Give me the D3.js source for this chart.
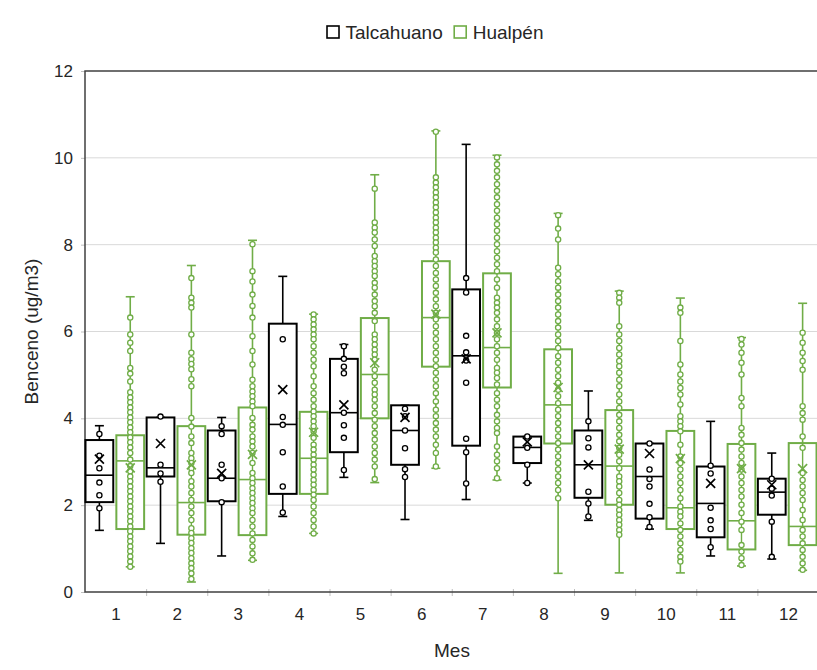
<!DOCTYPE html>
<meta charset="utf-8">
<html>
<head>
<style>
  body { margin: 0; background: #fff; }
  svg text { font-family: "Liberation Sans", Arial, sans-serif; fill: #262626; }
  .grid line { stroke: #d9d9d9; stroke-width: 1; }
</style>
</head>
<body>
<svg width="817" height="670"></svg>
<script src="https://cdn.jsdelivr.net/npm/d3@7"></script>
<script>
var months = ["1","2","3","4","5","6","7","8","9","10","11","12"];
var series = ["Talcahuano", "Hualpén"];
var yTicks = [0, 2, 4, 6, 8, 10, 12];

// Talcahuano (black)
var talQ1   = [2.07, 2.66, 2.09, 2.26, 3.22, 2.93, 3.37, 2.97, 2.17, 1.69, 1.26, 1.78];
var talMed  = [2.69, 2.86, 2.62, 3.86, 4.13, 3.72, 5.44, 3.33, 2.93, 2.66, 2.04, 2.30];
var talQ3   = [3.50, 4.02, 3.72, 6.18, 5.37, 4.30, 6.97, 3.58, 3.72, 3.42, 2.89, 2.61];
var talLo   = [1.42, 1.12, 0.83, 1.74, 2.64, 1.67, 2.13, 2.51, 1.65, 1.45, 0.83, 0.76];
var talHi   = [3.83, 4.02, 4.02, 7.27, 5.70, 4.30, 10.31, 3.58, 4.63, 3.42, 3.93, 3.20];
var talMean = [3.06, 3.42, 2.73, 4.66, 4.31, 4.02, 5.37, 3.46, 2.93, 3.19, 2.50, 2.47];
var talPts = [
  [3.64, 3.14, 2.85, 2.52, 2.23, 1.93],
  [4.04, 2.93, 2.73, 2.54],
  [3.82, 3.64, 2.93, 2.62, 2.07],
  [5.82, 4.03, 3.85, 3.22, 2.43, 1.83],
  [5.66, 5.37, 5.19, 5.04, 4.13, 3.84, 3.55, 2.81],
  [4.22, 4.05, 3.72, 3.31, 2.83, 2.65],
  [7.23, 6.90, 5.90, 5.52, 5.33, 4.82, 3.53, 3.22, 2.50],
  [3.58, 3.32, 2.93, 2.51],
  [3.93, 3.54, 3.33, 2.31, 2.04, 1.74],
  [3.42, 2.82, 2.60, 2.43, 2.03, 1.72, 1.50],
  [2.91, 2.73, 1.94, 1.65, 1.45, 1.03],
  [2.61, 2.38, 2.22, 1.62, 0.81]
];

// Hualpén (green)
var hualQ1   = [1.45, 1.32, 1.31, 2.26, 4.00, 5.19, 4.71, 3.42, 2.01, 1.45, 0.98, 1.08];
var hualMed  = [3.02, 2.06, 2.59, 3.08, 5.01, 6.32, 5.63, 4.31, 2.90, 1.94, 1.64, 1.51];
var hualQ3   = [3.61, 3.82, 4.25, 4.15, 6.31, 7.62, 7.34, 5.59, 4.19, 3.71, 3.41, 3.43];
var hualLo   = [0.58, 0.23, 0.73, 1.35, 2.52, 2.85, 2.58, 0.43, 0.44, 0.44, 0.60, 0.50];
var hualHi   = [6.80, 7.52, 8.10, 6.40, 9.61, 10.62, 10.06, 8.72, 6.93, 6.77, 5.86, 6.65];
var hualMean = [2.86, 2.93, 3.17, 3.68, 5.28, 6.40, 5.97, 4.71, 3.29, 3.07, 2.84, 2.84];
var hualPts = [
  [6.32, 5.93, 5.74, 5.55, 5.16, 5.03, 4.85, 4.60, 4.48, 4.37, 4.25, 4.14, 4.02, 3.91, 3.79, 3.68, 3.56, 3.45, 3.33, 3.20, 3.05, 2.90, 2.78, 2.66, 2.55, 2.43, 2.32, 2.20, 2.09, 1.97, 1.86, 1.74, 1.63, 1.51, 1.40, 1.28, 1.17, 1.05, 0.94, 0.82, 0.70, 0.58],
  [7.23, 6.78, 6.66, 6.55, 5.93, 5.51, 5.36, 5.25, 5.13, 4.90, 4.74, 4.01, 3.81, 3.58, 3.43, 3.20, 3.08, 2.97, 2.85, 2.74, 2.55, 2.43, 2.28, 2.12, 1.97, 1.82, 1.66, 1.47, 1.36, 1.24, 1.13, 1.01, 0.90, 0.78, 0.66, 0.55, 0.43, 0.30],
  [8.01, 7.39, 7.15, 6.85, 6.59, 6.32, 5.89, 5.55, 5.24, 4.89, 4.74, 4.62, 4.51, 4.39, 4.28, 4.01, 3.85, 3.74, 3.58, 3.47, 3.35, 3.20, 2.97, 2.74, 2.62, 2.51, 2.39, 2.28, 2.16, 2.05, 1.93, 1.82, 1.66, 1.51, 1.35, 1.20, 1.05, 0.89, 0.74],
  [6.39, 6.28, 6.16, 6.05, 5.93, 5.82, 5.66, 5.51, 5.35, 5.20, 4.97, 4.74, 4.58, 4.43, 4.28, 4.16, 4.05, 3.93, 3.82, 3.70, 3.55, 3.39, 3.28, 3.16, 3.05, 2.93, 2.82, 2.70, 2.58, 2.47, 2.35, 2.24, 2.12, 1.97, 1.82, 1.66, 1.51, 1.35],
  [9.29, 8.51, 8.39, 8.28, 8.12, 7.97, 7.74, 7.62, 7.51, 7.39, 7.28, 7.12, 7.01, 6.85, 6.70, 6.58, 6.43, 6.24, 5.93, 5.82, 5.70, 5.58, 5.47, 5.35, 5.12, 4.97, 4.82, 4.66, 4.55, 4.43, 4.28, 4.12, 3.97, 3.82, 3.66, 3.51, 3.35, 3.20, 3.05, 2.89, 2.60],
  [10.60, 9.55, 9.43, 9.32, 9.20, 9.09, 8.97, 8.86, 8.74, 8.62, 8.51, 8.39, 8.28, 8.16, 8.05, 7.93, 7.82, 7.66, 7.51, 7.35, 7.20, 7.05, 6.89, 6.74, 6.58, 6.43, 6.28, 6.12, 5.97, 5.82, 5.66, 5.51, 5.35, 5.20, 5.05, 4.89, 4.74, 4.58, 4.39, 4.20, 4.05, 3.89, 3.74, 3.58, 3.39, 3.20, 2.89],
  [10.01, 9.85, 9.70, 9.55, 9.39, 9.24, 9.09, 8.93, 8.78, 8.62, 8.47, 8.32, 8.16, 8.01, 7.85, 7.70, 7.55, 7.39, 7.20, 7.01, 6.78, 6.66, 6.55, 6.43, 6.28, 6.12, 5.97, 5.82, 5.66, 5.51, 5.35, 5.16, 5.05, 4.93, 4.78, 4.58, 4.43, 4.28, 4.08, 3.93, 3.78, 3.66, 3.35, 3.16, 3.01, 2.85, 2.62],
  [8.68, 8.37, 8.12, 7.47, 7.32, 7.16, 7.01, 6.85, 6.70, 6.55, 6.39, 6.24, 6.09, 5.93, 5.78, 5.62, 5.43, 5.28, 5.12, 4.97, 4.82, 4.66, 4.51, 4.35, 4.20, 4.05, 3.89, 3.74, 3.58, 3.43, 3.28, 3.12, 2.97, 2.82, 2.66, 2.51, 2.35, 2.16],
  [6.89, 6.78, 6.66, 6.12, 5.93, 5.78, 5.62, 5.47, 5.32, 5.20, 5.05, 4.89, 4.74, 4.55, 4.39, 4.24, 4.08, 3.93, 3.78, 3.62, 3.47, 3.32, 3.16, 3.01, 2.85, 2.66, 2.55, 2.43, 2.28, 2.12, 2.01, 1.89, 1.78, 1.66, 1.55, 1.43, 1.32],
  [6.55, 6.43, 5.78, 5.24, 5.01, 4.85, 4.70, 4.55, 4.32, 4.05, 3.93, 3.82, 3.70, 3.39, 3.12, 2.97, 2.82, 2.66, 2.51, 2.35, 2.16, 1.97, 1.85, 1.74, 1.58, 1.43, 1.28, 1.12, 0.97, 0.81, 0.70],
  [5.83, 5.70, 5.51, 5.28, 5.01, 4.47, 4.28, 3.78, 3.62, 3.43, 3.28, 3.12, 2.97, 2.82, 2.66, 2.51, 2.35, 2.20, 2.01, 1.82, 1.62, 1.43, 1.08, 0.93, 0.78, 0.62],
  [5.97, 5.74, 5.51, 5.32, 5.12, 4.28, 4.12, 3.97, 3.58, 3.32, 2.74, 2.58, 2.43, 2.28, 2.12, 1.89, 1.66, 1.43, 1.28, 1.12, 0.97, 0.81, 0.66, 0.51]
];

var colors = {"Talcahuano": "#000000", "Hualpén": "#70ad47"};

var svg = d3.select("svg");
var plotLeft = 85, plotRight = 819, plotTop = 71, plotBottom = 592;

var x = d3.scaleBand().domain(months).range([plotLeft + 0.5, plotRight]);
var xs = d3.scaleBand().domain(series).range([0, x.bandwidth() - 2.5]).paddingInner(0.1);
var y = d3.scaleLinear().domain([0, 12]).range([plotBottom, plotTop]);

// gridlines
svg.append("g").attr("class", "grid")
  .selectAll("line").data(yTicks.filter(function(d) { return d > 0 && d < 12; }))
  .enter().append("line")
  .attr("x1", plotLeft).attr("x2", 817)
  .attr("y1", function(d) { return y(d); })
  .attr("y2", function(d) { return y(d); });

// y axis
var yAxis = svg.append("g")
  .attr("transform", "translate(" + plotLeft + ",0)")
  .call(d3.axisLeft(y).tickValues(yTicks).tickSize(4).tickPadding(8));
yAxis.select(".domain").remove();
yAxis.selectAll(".tick line").attr("stroke", "#bfbfbf");
yAxis.selectAll(".tick text").attr("font-size", 17).attr("fill", "#262626")
  .style("font-family", "'Liberation Sans', Arial, sans-serif");

// x axis (ticks at category boundaries)
var xAxis = svg.append("g")
  .attr("transform", "translate(0," + plotBottom + ")")
  .call(d3.axisBottom(x).tickSize(0).tickPadding(16));
xAxis.select(".domain").remove();
xAxis.selectAll(".tick text").attr("font-size", 17).attr("fill", "#262626")
  .style("font-family", "'Liberation Sans', Arial, sans-serif");
svg.append("g").selectAll("line")
  .data(months.slice(1))
  .enter().append("line")
  .attr("x1", function(d) { return x(d); })
  .attr("x2", function(d) { return x(d); })
  .attr("y1", plotBottom - 3).attr("y2", plotBottom + 4)
  .attr("stroke", "#bfbfbf");

// plot frame: left, top, bottom
svg.append("path")
  .attr("d", "M817," + y(12) + "H" + plotLeft + "V" + y(0) + "H817")
  .attr("fill", "none").attr("stroke", "#404040").attr("stroke-width", 1.5);

function drawSeries(name, q1, med, q3, lo, hi, mean, pts) {
  var col = colors[name];
  var g = svg.append("g");
  var bw = xs.bandwidth();
  months.forEach(function(m, i) {
    var x0 = x(m) + xs(name), cx = x0 + bw / 2;
    var cg = g.append("g");
    // whiskers
    cg.append("line").attr("x1", cx).attr("x2", cx)
      .attr("y1", y(hi[i])).attr("y2", y(q3[i]))
      .attr("stroke", col).attr("stroke-width", 1.6);
    cg.append("line").attr("x1", cx).attr("x2", cx)
      .attr("y1", y(q1[i])).attr("y2", y(lo[i]))
      .attr("stroke", col).attr("stroke-width", 1.6);
    [hi[i], lo[i]].forEach(function(v) {
      cg.append("line").attr("x1", cx - 4.5).attr("x2", cx + 4.5)
        .attr("y1", y(v)).attr("y2", y(v))
        .attr("stroke", col).attr("stroke-width", 1.6);
    });
    // box
    cg.append("rect")
      .attr("x", x0).attr("width", bw)
      .attr("y", y(q3[i])).attr("height", y(q1[i]) - y(q3[i]))
      .attr("fill", "#fff").attr("stroke", col).attr("stroke-width", 2);
    cg.append("line").attr("x1", x0).attr("x2", x0 + bw)
      .attr("y1", y(med[i])).attr("y2", y(med[i]))
      .attr("stroke", col).attr("stroke-width", 1.6);
    // green points sit on a line through the box
    if (name === "Hualpén") {
      cg.append("line").attr("x1", cx).attr("x2", cx)
        .attr("y1", y(q3[i])).attr("y2", y(q1[i]))
        .attr("stroke", col).attr("stroke-width", 1.4);
    }
    // points
    cg.selectAll("circle").data(pts[i]).enter().append("circle")
      .attr("cx", cx).attr("cy", function(d) { return y(d); })
      .attr("r", 2.6)
      .attr("fill", "#fff").attr("stroke", col).attr("stroke-width", 1.3);
    // mean marker
    var my = y(mean[i]), s = 4.5;
    cg.append("path")
      .attr("d", "M" + (cx - s) + "," + (my - s) + "L" + (cx + s) + "," + (my + s) +
                 "M" + (cx - s) + "," + (my + s) + "L" + (cx + s) + "," + (my - s))
      .attr("stroke", col).attr("stroke-width", 1.7).attr("fill", "none");
  });
}

drawSeries("Talcahuano", talQ1, talMed, talQ3, talLo, talHi, talMean, talPts);
drawSeries("Hualpén", hualQ1, hualMed, hualQ3, hualLo, hualHi, hualMean, hualPts);

// axis titles
svg.append("text")
  .attr("transform", "translate(38," + ((plotTop + plotBottom) / 2) + ") rotate(-90)")
  .attr("text-anchor", "middle").attr("font-size", 19)
  .text("Benceno (ug/m3)");
svg.append("text")
  .attr("x", (plotLeft + plotRight) / 2).attr("y", 657)
  .attr("text-anchor", "middle").attr("font-size", 19)
  .text("Mes");

// legend
var legend = svg.append("g");
var lx = 0;
series.forEach(function(s) {
  var item = legend.append("g").attr("transform", "translate(" + lx + ",0)");
  item.append("rect").attr("x", 0.5).attr("y", -13).attr("width", 12).attr("height", 12)
    .attr("fill", "#fff").attr("stroke", colors[s]).attr("stroke-width", 1.6);
  var t = item.append("text").attr("x", 19).attr("y", 0).attr("font-size", 19).text(s);
  lx += 19 + t.node().getComputedTextLength() + 11;
});
legend.attr("transform", "translate(" + (435 - (lx - 11) / 2) + ",39)");
</script>
</body>
</html>
